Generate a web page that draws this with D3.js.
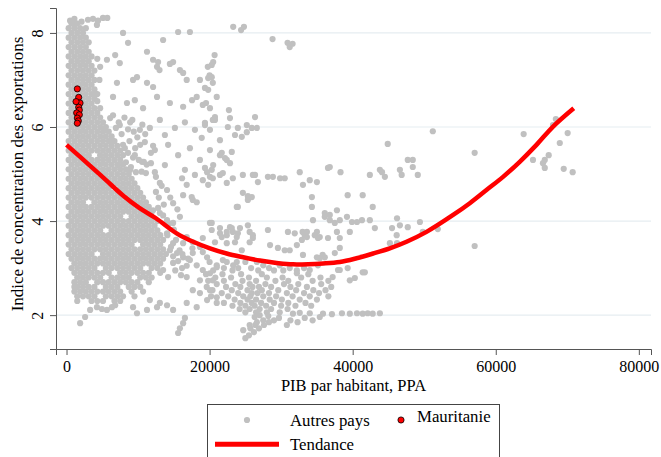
<!DOCTYPE html>
<html><head><meta charset="utf-8">
<script src="https://cdn.jsdelivr.net/npm/d3@7"></script>
<style>body{margin:0;background:#fff}svg{display:block}svg text{font-family:"Liberation Serif","DejaVu Serif",serif}</style>
</head><body><svg id="c" width="661" height="457"></svg>
<script>
const xTicks=[0,20000,40000,60000,80000];
const yTicks=[2,4,6,8];
// dense band of "Autres pays": [concentration, [GDP values]]
const denseRows=[
[8.2,[700,1500]],
[8.1,[300,1100,1900,2700]],
[8.0,[700,1500,2300]],
[7.9,[300,1100,1900,2700]],
[7.8,[700,1500,2300,3100]],
[7.7,[300,1100,1900,2700]],
[7.6,[700,1500,2300,3100]],
[7.5,[300,1100,1900,2700,3500]],
[7.4,[700,1500,2300,3100]],
[7.3,[300,1100,1900,2700,3500]],
[7.2,[700,1500,2300,3100,3900]],
[7.1,[300,1100,1900,2700,3500]],
[7.0,[700,1500,2300,3100,3900]],
[6.9,[300,1100,1900,2700,3500]],
[6.8,[700,1500,2300,3100,3900]],
[6.7,[300,1100,1900,2700,3500,4300]],
[6.6,[700,1500,2300,3100,3900]],
[6.5,[300,1100,1900,2700,3500]],
[6.4,[700,1500,2300,3100,3900,4700]],
[6.3,[300,1100,1900,2700,3500,4300]],
[6.2,[700,1500,2300,3100,3900,4700]],
[6.1,[300,1100,1900,2700,3500,4300,5100]],
[6.0,[700,1500,2300,3100,3900,4700,5500]],
[5.9,[300,1100,1900,2700,3500,4300,5100,5900]],
[5.8,[700,1500,2300,3100,3900,4700,5500,6300]],
[5.7,[300,1100,1900,2700,3500,4300,5100,5900,6700]],
[5.6,[700,1500,2300,3100,3900,4700,5500,6300,7100]],
[5.5,[300,1100,1900,2700,3500,4300,5100,5900,6700,7500]],
[5.4,[700,1500,2300,3100,4700,5500,6300,7100,7900]],
[5.3,[300,1100,1900,2700,3500,4300,5100,5900,6700,7500]],
[5.2,[700,1500,2300,3100,3900,4700,5500,6300,7100,7900]],
[5.1,[300,1100,1900,2700,3500,4300,5100,5900,6700,7500,8300]],
[5.0,[700,1500,2300,3100,3900,4700,5500,6300,7100,7900,8700]],
[4.9,[300,1100,1900,2700,3500,4300,5100,5900,6700,7500,8300,9100]],
[4.8,[700,1500,2300,3100,3900,4700,5500,6300,7100,7900,8700,9500]],
[4.7,[300,1100,1900,2700,3500,4300,5100,5900,7500,8300,9100,9900]],
[4.6,[700,1500,2300,3100,3900,4700,5500,6300,7100,7900,8700,9500,10300]],
[4.5,[300,1100,1900,2700,3500,4300,5100,5900,6700,7500,8300,9100,9900,10700]],
[4.4,[700,1500,2300,3900,4700,5500,6300,7100,7900,8700,9500,10300,11100]],
[4.3,[300,1100,1900,2700,3500,4300,5100,5900,6700,7500,8300,9100,9900,10700,11500]],
[4.2,[700,1500,2300,3100,3900,4700,5500,6300,7100,7900,8700,9500,10300,11100,11900]],
[4.1,[300,1100,1900,2700,3500,4300,5100,5900,6700,7500,9100,9900,10700,11500]],
[4.0,[700,1500,2300,3100,3900,4700,5500,6300,7100,7900,8700,9500,10300,11100,11900,12700]],
[3.9,[300,1100,1900,2700,3500,4300,5100,5900,6700,7500,8300,9100,9900,10700,11500,12300]],
[3.8,[700,1500,2300,3100,3900,4700,6300,7100,7900,8700,9500,10300,11100,11900,12700]],
[3.7,[300,1100,1900,2700,3500,4300,5100,5900,6700,7500,8300,9100,9900,10700,11500,12300,13100]],
[3.6,[700,1500,2300,3100,3900,4700,5500,6300,7100,7900,8700,9500,10300,11100,11900,12700,13500]],
[3.5,[300,1100,1900,2700,3500,4300,5100,5900,6700,7500,8300,9100,10700,11500,12300,13100]],
[3.4,[700,1500,2300,3100,3900,4700,5500,6300,7100,7900,8700,9500,10300,11100,11900,12700,13500]],
[3.3,[300,1100,1900,2700,3500,5100,5900,6700,7500,8300,9100,9900,10700,11500,12300,13100,13900]],
[3.2,[700,1500,2300,3100,3900,4700,5500,6300,7100,7900,8700,9500,10300,11100,11900,12700,13500]],
[3.1,[1100,1900,2700,3500,4300,5100,5900,6700,7500,8300,9100,9900,10700,11500,12300,13100]],
[3.0,[700,1500,2300,3100,3900,5500,6300,7100,7900,8700,9500,10300,11900,12700]],
[2.9,[1100,1900,2700,3500,4300,5100,5900,7500,8300,9100,9900,10700,11500,13100]],
[2.8,[1500,2300,3100,3900,4700,6300,7100,7900,8700,10300,11100,11900]],
[2.7,[1100,1900,2700,4300,5100,5900,6700,7500,8300,9100,9900,11500]],
[2.6,[1100,1500,2300,3100,3900,5500,6300,7100,8700,9500,10300]],
[2.5,[1100,1900,2700,3500,4300,5100,5900,6700,7500,9100,10700]],
[2.4,[1500,2300,3100,3900,5500,6300,7100,7900,9500]],
[2.3,[1500,3500,4300,5100,6700,7500]]
];
// lower cluster of "Autres pays": [concentration, [GDP values]]
const lowRows=[
[3.13,[20000,22400,25000,26600]],
[3.06,[21000,23300,27500,29800]],
[3.0,[22000,24000,25800,28300,31200,33200]],
[2.95,[20500,23200,26800,29000,30300,32200]],
[2.87,[19500,21800,24400,27300,33800]],
[2.8,[20800,23000,25500,28000,30200,32800,35500]],
[2.73,[19800,22000,24600,26500,29200,31000,34400,36600]],
[2.66,[21000,23600,25600,27800,30400,32400,35600]],
[2.6,[19600,22300,24300,26000,26900,28600,31300,33600,37000]],
[2.53,[20400,23100,25300,27300,29600,32100,34500,36200]],
[2.47,[21700,24000,25900,26700,28300,30800,33200,35300]],
[2.4,[20200,22600,24700,25700,27500,29300,31600,34000,36600]],
[2.33,[23500,25300,26500,28400,30100,32600,35000]],
[2.26,[22000,24300,25900,27200,29000,31000,33400]],
[2.2,[23200,25000,26300,27900,30000,32000,34200]],
[2.13,[24200,25600,27000,28600,30900]],
[2.06,[25000,26500,28000,29800]]
];
// scattered "Autres pays": [GDP, concentration]
const others=[
[3000,8.28],[3700,8.3],[4400,8.26],[5100,8.32],[5700,8.32],[4250,8.17],[1200,8.21],[1100,8.3],[500,8.26],[2100,8.24],
[7900,8.0],[8600,7.79],[13500,7.85],[15600,8.02],[17250,8.02],[23300,8.13],[24400,8.06],[24800,8.13],[28800,7.87],[30900,7.79],[31200,7.7],[31600,7.77],
[20700,7.53],[20500,7.38],[20300,7.32],[20000,7.1],[19800,7.04],[20300,7.06],[19350,6.83],[19800,6.79],
[11250,7.6],[12100,7.43],[12800,7.38],[12650,7.28],[13000,7.21],[14900,7.38],[15850,7.21],[14450,7.34],[16300,7.15],[16800,7.0],[18650,7.0],[19750,7.28],
[5650,7.43],[4700,7.28],[6800,7.53],[7450,7.36],[7050,6.94],[9300,7.0],[9850,7.06],[11250,6.94],[12100,6.85],
[6500,6.64],[8450,6.51],[9550,6.57],[10700,6.4],[12650,6.64],[14450,6.51],[16300,6.43],[17550,6.57],[18200,6.64],[19050,6.47],[20450,6.94],[21000,6.64],
[4000,6.72],[4300,6.55],[4600,7.0],[4300,7.45],
[6100,6.19],[7450,6.04],[5250,5.94],[8900,6.1],[10250,5.94],[11650,5.98],[13050,6.15],[13750,5.83],[15150,5.98],[16550,6.1],[17950,5.94],[19350,6.04],[20750,6.15],
[6350,5.72],[8150,5.55],[9550,5.4],[10950,5.68],[12350,5.51],[14200,5.62],[15600,5.4],[17250,5.55],[18650,5.3],[20050,5.51],[21450,5.72],[22150,5.34],
[7200,5.19],[8900,5.09],[10550,5.26],[12350,5.04],[13750,5.19],[16550,5.09],[17950,4.98],[19350,5.13],
[19500,6.51],[20050,6.4],[19350,6.09],[20750,6.21],[20450,6.15],[20050,5.94],[18900,5.77],[22700,6.36],[22850,6.19],[22550,6.0],[23550,5.83],[24500,5.79],[23950,5.98],[25200,6.04],[25900,5.98],[26600,5.98],[25200,5.89],[26350,6.21],
[21700,5.45],[21450,5.4],[23100,5.47],[22400,5.3],[22850,5.23],[20500,5.19],[20300,5.09],[20050,4.94],[21850,5.02],[24650,4.98],[26350,4.98],[28150,4.94],[28850,4.94],[32600,5.04],[36550,5.13],[36800,5.15],[29850,4.91],[30500,4.91],
[44900,5.64],[42400,4.98],[43800,5.09],[44500,4.94],[46600,5.09],[46850,4.98],[47700,5.3],[48400,5.3],[48400,5.15],[49100,4.98],
[6500,6.25],[7300,6.1],[8100,6.2],[6900,5.98],[7700,5.85],[8600,5.95],[9400,5.9],[9900,5.78],[8800,5.7],[7900,5.62],[9600,5.55],[10300,5.62],[8600,5.45],[9300,5.35],[10100,5.3],[8300,5.25],[9000,5.15],[10500,5.05],[11200,5.2],[11800,5.45],[12100,5.6],[11000,5.85],[10600,6.05],[9200,6.15],
[10800,5.26],[11800,5.23],[11100,5.02],[12500,4.94],[9700,5.04],
[16150,4.91],[16800,4.77],[17500,4.51],[18200,4.4],[19050,4.87],[19800,4.77],[16300,4.55],[13050,4.81],[14050,4.66],[14900,4.38],[12100,4.23],[13050,4.17],[14050,4.02],[14900,3.96],[15850,4.09],[16800,3.66],[17650,3.55],[18650,3.45],
[12900,4.5],[13600,4.35],[12500,4.62],[12800,4.28],[13500,4.12],[14300,3.95],[15000,3.82],[14100,3.7],[15300,3.6],[14600,3.45],[15800,3.38],[14900,3.25],[15600,3.15],[16200,3.3],[16800,3.05],[15200,2.95],[16000,2.85],[17000,3.2],[17600,3.42],[14500,4.5],[15500,4.25],[13300,4.75],
[14450,3.38],[15450,3.32],[16300,3.23],[17250,3.17],[18200,3.06],[19050,2.96],[20050,2.89],[21000,3.02],[14900,3.11],[16150,3.0],[13500,2.96],[14200,2.81],[16800,2.81],[18650,2.74],[20450,2.74],[19650,3.23],
[17650,2.53],[18650,2.47],[20050,2.53],[21000,2.38],[16800,2.26],[18200,2.17],[19650,2.32],[21000,2.26],[14050,2.21],[14900,2.11],[13050,2.26],[11650,2.32],[16550,1.94],[16300,1.83],[15850,1.72],[15600,1.62],
[1900,1.83],[2600,1.96],[3300,2.11],[4250,2.17],[4950,2.13],[5650,2.11],[6350,2.17],[6800,2.21],[9850,2.04],[11250,2.11],[12650,2.17],[9300,2.17],
[19650,5.04],[20450,4.91],[21450,4.98],[22400,4.81],[23250,4.91],[26050,4.98],[26750,4.83],[33050,4.77],[34000,4.87],[35000,4.83],[38300,5.04],[44100,5.04],
[24650,4.6],[25350,4.53],[25900,4.51],[23800,4.3],[34300,4.51],[34300,4.3],[39300,4.55],[41400,4.55],[42800,4.3],[36100,4.17],[36800,4.13],[37800,4.23],
[20050,3.96],[20300,3.81],[21450,3.85],[22400,3.77],[23100,3.85],[23950,3.74],[24250,3.85],[25350,3.91],[25600,3.77],[26050,3.7],[28150,3.81],[30950,3.77],[33600,3.77],[33300,3.7],[35000,3.77],[36100,4.09],[36800,4.02],[37500,3.96],[38200,4.02],[39200,4.09],[39900,3.98],[40600,3.98],[41300,4.02],[42400,4.02],[34450,4.02],[37800,3.77],[39600,3.77],[43100,3.85],[45500,3.85],[46200,4.06],[46600,3.91],[47700,3.87],[49400,3.98],
[19050,3.64],[20750,3.55],[21700,3.66],[22400,3.53],[23550,3.55],[23800,3.66],[25600,3.55],[26050,3.64],[24500,3.38],[28450,3.49],[29550,3.43],[30500,3.38],[31200,3.38],[32200,3.49],[32900,3.6],[33600,3.66],[33050,3.28],[35150,3.64],[36550,3.64],[38200,3.64],[35400,3.21],[36100,3.23],[37500,3.32],[38200,3.43],[45200,3.53],[46200,3.53],
[17650,4.45],[23950,4.3],[25350,4.45],[20300,3.96],[22850,3.87],[21450,3.74],[22400,3.7],[23250,3.77],[14050,3.74],[14900,3.53],[16300,3.53],[17650,3.32],[19050,3.34],[21850,3.17],[23800,3.13],
[31900,3.74],[33000,3.77],[34700,3.7],[35400,3.66],[46150,3.7],[35000,3.23],[35800,3.28],[38200,2.96],[39300,3.0],[41700,2.91],[37200,2.81],[34000,2.96],[32200,2.89],[35150,3.06],[37950,2.96],[39600,2.74],[40300,2.79],[41400,2.91],
[31650,2.03],[32600,2.05],[34000,2.04],[35850,2.03],[37100,2.02],[38500,2.04],[39600,2.03],[40600,2.04],[41400,2.03],[42100,2.04],[42800,2.03],[43800,2.04],
[25000,1.51],[25500,1.57],[26200,1.64],[26900,1.72],[27600,1.79],[28300,1.85],[29000,1.89],[29700,1.94],[25600,1.79],[26600,1.85],[27500,1.89],[26300,1.96],[24700,1.68],[25700,1.72],[26400,1.79],[31300,1.89],[32300,1.85],[33300,1.94],[34400,1.89],[35400,1.96],[30800,1.79],[28200,1.98],[27000,2.0],
[51200,5.91],[57050,5.45],[63900,5.85],[65200,5.3],[66600,5.23],[66850,5.3],[66850,5.13],[67400,5.4],[68000,6.04],[68400,6.17],[70050,5.87],[68950,5.66],[69500,5.11],[70750,5.04],[49800,3.77],[51900,3.83],[57050,3.47]
];
const mauritanie=[[1510,6.81],[1700,6.63],[1890,6.51],[1330,6.54],[1700,6.42],[1790,6.36],[1420,6.30],[1790,6.26],[1510,6.19],[1650,6.13],[1510,6.08]];
const trend=[[0,5.62],[3190,5.19],[5520,4.87],[7850,4.55],[10170,4.28],[12500,4.06],[15390,3.74],[17710,3.56],[20050,3.42],[22380,3.31],[24700,3.23],[27030,3.16],[29370,3.11],[31680,3.08],[35870,3.10],[38210,3.13],[40540,3.21],[42860,3.31],[45190,3.42],[47530,3.56],[50320,3.77],[54040,4.13],[56370,4.38],[58700,4.66],[61020,4.94],[63350,5.26],[65690,5.62],[68010,6.01],[70900,6.40]];
const labels={x:"PIB par habitant, PPA",y:"Indice de concentration des exportations",others:"Autres pays",mau:"Mauritanie",trend:"Tendance"};

const FONT="Liberation Serif";
const svg=d3.select("#c");
const x=d3.scaleLinear().domain([-1470,81700]).range([56,651]);
const y=d3.scaleLinear().domain([1.28,8.53]).range([349,8]);
const grey="#c0c0c0";

svg.append("g").selectAll("line").data(yTicks).join("line")
 .attr("x1",56).attr("x2",651).attr("y1",d=>y(d)).attr("y2",d=>y(d))
 .attr("stroke","#e6edf1").attr("stroke-width",1.2);

const pts=denseRows.flatMap(([c,xs])=>xs.map(g=>[g,c]))
 .concat(lowRows.flatMap(([c,xs])=>xs.map(g=>[g,c])))
 .concat(others);
svg.append("g").selectAll("circle").data(pts).join("circle")
 .attr("cx",d=>x(d[0])).attr("cy",d=>y(d[1])).attr("r",3.1).attr("fill",grey);

svg.append("path").datum(trend)
 .attr("d",d3.line().x(d=>x(d[0])).y(d=>y(d[1])).curve(d3.curveCatmullRom))
 .attr("fill","none").attr("stroke","#ff0000").attr("stroke-width",4.5);

svg.append("g").selectAll("circle").data(mauritanie).join("circle")
 .attr("cx",d=>x(d[0])).attr("cy",d=>y(d[1])).attr("r",3.1)
 .attr("fill","#ff0000").attr("stroke","#000").attr("stroke-width",0.8);

const axisColor="#555";
const gx=svg.append("g").attr("transform","translate(0,349)")
 .call(d3.axisBottom(x).tickValues(xTicks).tickSizeOuter(0).tickSize(6).tickFormat(d3.format("d")))
 .attr("font-family",FONT);
gx.select(".domain").attr("stroke",axisColor);
gx.selectAll(".tick line").attr("stroke",axisColor);
gx.selectAll(".tick text").attr("y",12).attr("font-size","16px").attr("font-family",FONT).attr("fill","#000");

const gy=svg.append("g").attr("transform","translate(56,0)")
 .call(d3.axisLeft(y).tickValues(yTicks).tickSizeOuter(0).tickSize(6))
 .attr("font-family",FONT);
gy.select(".domain").attr("stroke",axisColor);
gy.selectAll(".tick line").attr("stroke",axisColor);
gy.selectAll(".tick text").remove();
gy.selectAll(".tick").append("text")
 .attr("transform","translate(-13,0) rotate(-90)")
 .attr("text-anchor","middle").attr("font-size","16px").attr("fill","#000")
 .attr("font-family",FONT).text(d=>d);

svg.append("text").attr("x",353.5).attr("y",391).attr("text-anchor","middle")
 .attr("font-family",FONT).attr("font-size","16.5px").text(labels.x);
svg.append("text").attr("transform","translate(23,174) rotate(-90)").attr("text-anchor","middle")
 .attr("font-family",FONT).attr("font-size","17px").text(labels.y);

const lg=svg.append("g").attr("font-family",FONT);
lg.append("rect").attr("x",207.5).attr("y",404.5).attr("width",292).attr("height",70)
 .attr("fill","#fff").attr("stroke","#444").attr("stroke-width",1);
lg.append("circle").attr("cx",247).attr("cy",420).attr("r",3.1).attr("fill",grey);
lg.append("text").attr("x",290).attr("y",425.5).attr("font-size","16.8px").text(labels.others);
lg.append("circle").attr("cx",401).attr("cy",420).attr("r",3.1).attr("fill","#ff0000").attr("stroke","#000").attr("stroke-width",0.8);
lg.append("text").attr("x",417).attr("y",421.5).attr("font-size","16.8px").text(labels.mau);
lg.append("line").attr("x1",215).attr("x2",279).attr("y1",444.3).attr("y2",444.3).attr("stroke","#ff0000").attr("stroke-width",5);
lg.append("text").attr("x",290).attr("y",450).attr("font-size","16.8px").text(labels.trend);
</script></body></html>
